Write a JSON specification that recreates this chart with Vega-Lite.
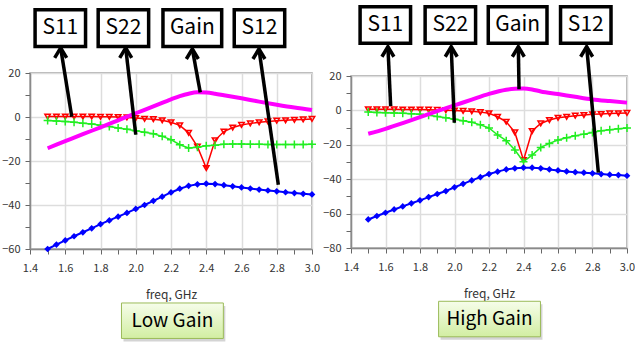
{
  "$schema": "https://vega.github.io/schema/vega-lite/v6.json",
  "background": "white",
  "padding": {"left": 0, "top": -2, "right": 0, "bottom": 0},
  "bounds": "flush",
  "spacing": 39,
  "config": {
    "view": {"stroke": "#9a9a9a", "strokeWidth": 1.5},
    "axis": {
      "labelFont": "Noto Sans CJK KR", "labelFontSize": 11, "labelColor": "#333333",
      "tickColor": "#666666", "tickSize": 5, "tickWidth": 1,
      "domainColor": "#8a8a8a", "domainWidth": 1.5,
      "gridColor": "#dddddd", "gridWidth": 1.5,
      "titleFont": "Noto Sans CJK KR", "titleFontSize": 12, "titleFontWeight": "normal", "titleColor": "#333333"
    },
    "axisX": {"labelPadding": 8, "titlePadding": 16},
    "axisY": {"labelPadding": 5}
  },
  "datasets": {
    "low": [
      {"s":"S11","f":1.5,"v":0.2},{"s":"S11","f":1.55,"v":0.2},{"s":"S11","f":1.6,"v":0.2},{"s":"S11","f":1.65,"v":0.2},{"s":"S11","f":1.7,"v":0.2},{"s":"S11","f":1.75,"v":0.2},{"s":"S11","f":1.8,"v":0.1},{"s":"S11","f":1.85,"v":0.1},{"s":"S11","f":1.9,"v":0.0},{"s":"S11","f":1.95,"v":-0.2},{"s":"S11","f":2.0,"v":-0.5},{"s":"S11","f":2.05,"v":-0.8},{"s":"S11","f":2.1,"v":-1.0},{"s":"S11","f":2.15,"v":-1.5},{"s":"S11","f":2.2,"v":-2.4},{"s":"S11","f":2.25,"v":-3.8},{"s":"S11","f":2.3,"v":-7.2},{"s":"S11","f":2.35,"v":-13.5},{"s":"S11","f":2.4,"v":-23.2},{"s":"S11","f":2.45,"v":-10.6},{"s":"S11","f":2.5,"v":-6.6},{"s":"S11","f":2.55,"v":-4.8},{"s":"S11","f":2.6,"v":-3.6},{"s":"S11","f":2.65,"v":-2.9},{"s":"S11","f":2.7,"v":-2.4},{"s":"S11","f":2.75,"v":-2.0},{"s":"S11","f":2.8,"v":-1.7},{"s":"S11","f":2.85,"v":-1.5},{"s":"S11","f":2.9,"v":-1.3},{"s":"S11","f":2.95,"v":-1.1},{"s":"S11","f":3.0,"v":-0.9},
      {"s":"S22","f":1.5,"v":-1.6},{"s":"S22","f":1.55,"v":-1.8},{"s":"S22","f":1.6,"v":-2.0},{"s":"S22","f":1.65,"v":-2.4},{"s":"S22","f":1.7,"v":-2.8},{"s":"S22","f":1.75,"v":-3.2},{"s":"S22","f":1.8,"v":-3.7},{"s":"S22","f":1.85,"v":-4.3},{"s":"S22","f":1.9,"v":-5.0},{"s":"S22","f":1.95,"v":-5.6},{"s":"S22","f":2.0,"v":-6.3},{"s":"S22","f":2.05,"v":-6.9},{"s":"S22","f":2.1,"v":-7.6},{"s":"S22","f":2.15,"v":-8.8},{"s":"S22","f":2.2,"v":-10.3},{"s":"S22","f":2.25,"v":-12.6},{"s":"S22","f":2.3,"v":-14.1},{"s":"S22","f":2.35,"v":-13.8},{"s":"S22","f":2.4,"v":-13.1},{"s":"S22","f":2.45,"v":-12.8},{"s":"S22","f":2.5,"v":-12.4},{"s":"S22","f":2.55,"v":-12.3},{"s":"S22","f":2.6,"v":-12.3},{"s":"S22","f":2.65,"v":-12.4},{"s":"S22","f":2.7,"v":-12.4},{"s":"S22","f":2.75,"v":-12.5},{"s":"S22","f":2.8,"v":-12.5},{"s":"S22","f":2.85,"v":-12.5},{"s":"S22","f":2.9,"v":-12.5},{"s":"S22","f":2.95,"v":-12.5},{"s":"S22","f":3.0,"v":-12.4},
      {"s":"S12","f":1.5,"v":-60.0},{"s":"S12","f":1.55,"v":-58.0},{"s":"S12","f":1.6,"v":-56.1},{"s":"S12","f":1.65,"v":-54.2},{"s":"S12","f":1.7,"v":-52.4},{"s":"S12","f":1.75,"v":-50.6},{"s":"S12","f":1.8,"v":-48.7},{"s":"S12","f":1.85,"v":-47.0},{"s":"S12","f":1.9,"v":-45.3},{"s":"S12","f":1.95,"v":-43.6},{"s":"S12","f":2.0,"v":-41.8},{"s":"S12","f":2.05,"v":-40.0},{"s":"S12","f":2.1,"v":-38.1},{"s":"S12","f":2.15,"v":-36.2},{"s":"S12","f":2.2,"v":-34.3},{"s":"S12","f":2.25,"v":-32.6},{"s":"S12","f":2.3,"v":-31.3},{"s":"S12","f":2.35,"v":-30.6},{"s":"S12","f":2.4,"v":-30.3},{"s":"S12","f":2.45,"v":-30.5},{"s":"S12","f":2.5,"v":-31.0},{"s":"S12","f":2.55,"v":-31.5},{"s":"S12","f":2.6,"v":-32.0},{"s":"S12","f":2.65,"v":-32.5},{"s":"S12","f":2.7,"v":-33.0},{"s":"S12","f":2.75,"v":-33.4},{"s":"S12","f":2.8,"v":-33.8},{"s":"S12","f":2.85,"v":-34.2},{"s":"S12","f":2.9,"v":-34.6},{"s":"S12","f":2.95,"v":-34.9},{"s":"S12","f":3.0,"v":-35.2},
      {"s":"Gain","f":1.5,"v":-14.2},{"s":"Gain","f":1.6,"v":-11.0},{"s":"Gain","f":1.7,"v":-7.8},{"s":"Gain","f":1.8,"v":-4.7},{"s":"Gain","f":1.9,"v":-1.5},{"s":"Gain","f":2.0,"v":1.7},{"s":"Gain","f":2.1,"v":4.8},{"s":"Gain","f":2.2,"v":8.0},{"s":"Gain","f":2.25,"v":9.5},{"s":"Gain","f":2.3,"v":10.6},{"s":"Gain","f":2.35,"v":11.2},{"s":"Gain","f":2.4,"v":11.1},{"s":"Gain","f":2.45,"v":10.6},{"s":"Gain","f":2.5,"v":9.9},{"s":"Gain","f":2.6,"v":8.5},{"s":"Gain","f":2.7,"v":7.0},{"s":"Gain","f":2.8,"v":5.6},{"s":"Gain","f":2.9,"v":4.3},{"s":"Gain","f":3.0,"v":3.2}
    ],
    "high": [
      {"s":"S11","f":1.5,"v":0.6},{"s":"S11","f":1.55,"v":0.6},{"s":"S11","f":1.6,"v":0.6},{"s":"S11","f":1.65,"v":0.6},{"s":"S11","f":1.7,"v":0.5},{"s":"S11","f":1.75,"v":0.5},{"s":"S11","f":1.8,"v":0.5},{"s":"S11","f":1.85,"v":0.4},{"s":"S11","f":1.9,"v":0.3},{"s":"S11","f":1.95,"v":0.1},{"s":"S11","f":2.0,"v":-0.1},{"s":"S11","f":2.05,"v":-0.3},{"s":"S11","f":2.1,"v":-0.5},{"s":"S11","f":2.15,"v":-1.0},{"s":"S11","f":2.2,"v":-1.7},{"s":"S11","f":2.25,"v":-3.7},{"s":"S11","f":2.3,"v":-6.6},{"s":"S11","f":2.35,"v":-12.8},{"s":"S11","f":2.4,"v":-28.9},{"s":"S11","f":2.45,"v":-12.0},{"s":"S11","f":2.5,"v":-7.6},{"s":"S11","f":2.55,"v":-5.6},{"s":"S11","f":2.6,"v":-4.3},{"s":"S11","f":2.65,"v":-3.7},{"s":"S11","f":2.7,"v":-3.1},{"s":"S11","f":2.75,"v":-2.7},{"s":"S11","f":2.8,"v":-2.3},{"s":"S11","f":2.85,"v":-2.1},{"s":"S11","f":2.9,"v":-1.8},{"s":"S11","f":2.95,"v":-1.7},{"s":"S11","f":3.0,"v":-1.5},
      {"s":"S22","f":1.5,"v":-1.0},{"s":"S22","f":1.55,"v":-1.2},{"s":"S22","f":1.6,"v":-1.4},{"s":"S22","f":1.65,"v":-1.5},{"s":"S22","f":1.7,"v":-1.7},{"s":"S22","f":1.75,"v":-2.0},{"s":"S22","f":1.8,"v":-2.3},{"s":"S22","f":1.85,"v":-2.8},{"s":"S22","f":1.9,"v":-3.5},{"s":"S22","f":1.95,"v":-4.3},{"s":"S22","f":2.0,"v":-5.2},{"s":"S22","f":2.05,"v":-6.0},{"s":"S22","f":2.1,"v":-6.9},{"s":"S22","f":2.15,"v":-8.4},{"s":"S22","f":2.2,"v":-10.2},{"s":"S22","f":2.25,"v":-14.3},{"s":"S22","f":2.3,"v":-17.6},{"s":"S22","f":2.35,"v":-23.0},{"s":"S22","f":2.4,"v":-29.8},{"s":"S22","f":2.45,"v":-26.0},{"s":"S22","f":2.5,"v":-21.5},{"s":"S22","f":2.55,"v":-19.2},{"s":"S22","f":2.6,"v":-17.2},{"s":"S22","f":2.65,"v":-15.9},{"s":"S22","f":2.7,"v":-14.7},{"s":"S22","f":2.75,"v":-13.8},{"s":"S22","f":2.8,"v":-12.8},{"s":"S22","f":2.85,"v":-11.8},{"s":"S22","f":2.9,"v":-11.2},{"s":"S22","f":2.95,"v":-10.7},{"s":"S22","f":3.0,"v":-10.3},
      {"s":"S12","f":1.5,"v":-63.4},{"s":"S12","f":1.55,"v":-61.4},{"s":"S12","f":1.6,"v":-59.5},{"s":"S12","f":1.65,"v":-57.6},{"s":"S12","f":1.7,"v":-55.8},{"s":"S12","f":1.75,"v":-54.0},{"s":"S12","f":1.8,"v":-52.3},{"s":"S12","f":1.85,"v":-50.4},{"s":"S12","f":1.9,"v":-48.6},{"s":"S12","f":1.95,"v":-46.9},{"s":"S12","f":2.0,"v":-44.7},{"s":"S12","f":2.05,"v":-42.7},{"s":"S12","f":2.1,"v":-40.7},{"s":"S12","f":2.15,"v":-38.8},{"s":"S12","f":2.2,"v":-37.0},{"s":"S12","f":2.25,"v":-35.6},{"s":"S12","f":2.3,"v":-34.3},{"s":"S12","f":2.35,"v":-33.7},{"s":"S12","f":2.4,"v":-33.3},{"s":"S12","f":2.45,"v":-33.3},{"s":"S12","f":2.5,"v":-33.7},{"s":"S12","f":2.55,"v":-34.3},{"s":"S12","f":2.6,"v":-34.9},{"s":"S12","f":2.65,"v":-35.5},{"s":"S12","f":2.7,"v":-35.9},{"s":"S12","f":2.75,"v":-36.2},{"s":"S12","f":2.8,"v":-36.6},{"s":"S12","f":2.85,"v":-37.0},{"s":"S12","f":2.9,"v":-37.4},{"s":"S12","f":2.95,"v":-37.6},{"s":"S12","f":3.0,"v":-38.0},
      {"s":"Gain","f":1.5,"v":-13.6},{"s":"Gain","f":1.6,"v":-10.7},{"s":"Gain","f":1.7,"v":-7.4},{"s":"Gain","f":1.8,"v":-3.9},{"s":"Gain","f":1.9,"v":-0.4},{"s":"Gain","f":2.0,"v":2.9},{"s":"Gain","f":2.1,"v":6.3},{"s":"Gain","f":2.2,"v":9.6},{"s":"Gain","f":2.3,"v":12.0},{"s":"Gain","f":2.35,"v":12.6},{"s":"Gain","f":2.4,"v":12.8},{"s":"Gain","f":2.45,"v":12.2},{"s":"Gain","f":2.5,"v":11.0},{"s":"Gain","f":2.6,"v":9.5},{"s":"Gain","f":2.7,"v":7.9},{"s":"Gain","f":2.8,"v":6.4},{"s":"Gain","f":2.9,"v":5.4},{"s":"Gain","f":3.0,"v":4.5}
    ],
    "lowArrows": [
      {"label":"S11","f":1.637,"v":0.1,"f2":1.574,"v2":31.4},
      {"label":"S22","f":2.0,"v":-8.0,"f2":1.943,"v2":31.4},
      {"label":"Gain","f":2.366,"v":11.2,"f2":2.321,"v2":30.9},
      {"label":"S12","f":2.809,"v":-30.8,"f2":2.699,"v2":30.9}
    ],
    "highArrows": [
      {"label":"S11","f":1.630,"v":2.5,"f2":1.614,"v2":37.0},
      {"label":"S22","f":1.999,"v":-7.2,"f2":1.981,"v2":37.0},
      {"label":"Gain","f":2.374,"v":12.3,"f2":2.370,"v2":37.0},
      {"label":"S12","f":2.834,"v":-36.2,"f2":2.766,"v2":37.0}
    ],
    "lowLabels": [
      {"label":"S11","f":1.572,"v":40.4},
      {"label":"S22","f":1.930,"v":40.4},
      {"label":"Gain","f":2.321,"v":40.4},
      {"label":"S12","f":2.702,"v":40.4}
    ],
    "highLabels": [
      {"label":"S11","f":1.599,"v":49.65},
      {"label":"S22","f":1.976,"v":49.65},
      {"label":"Gain","f":2.366,"v":49.65},
      {"label":"S12","f":2.761,"v":49.65}
    ],
    "lowTag": [{"label":"Low Gain","f":2.208,"v":-92.6}],
    "highTag": [{"label":"High Gain","f":2.203,"v":-121.3}]
  },
  "hconcat": [
    {
      "width": 282,
      "height": 176,
      "encoding": {
        "x": {"field": "f", "type": "quantitative",
          "scale": {"domain": [1.4, 3.0], "nice": false, "zero": false},
          "axis": {"title": "freq, GHz", "values": [1.4,1.5,1.6,1.7,1.8,1.9,2.0,2.1,2.2,2.3,2.4,2.5,2.6,2.7,2.8,2.9,3.0], "format": ".1f",
            "labelExpr": "round(datum.value*10)%2===0 ? datum.label : ''",
            "gridOpacity": {"condition": {"test": "round(datum.value*10)%2!==0", "value": 0}, "value": 1},
            "labelFlush": false, "labelOverlap": false}},
        "y": {"field": "v", "type": "quantitative",
          "scale": {"domain": [-60, 20], "nice": false, "zero": false},
          "axis": {"title": null, "values": [-60,-50,-40,-30,-20,-10,0,10,20],
            "labelExpr": "datum.value%20===0 ? datum.label : ''",
            "gridOpacity": {"condition": {"test": "datum.value%20!==0", "value": 0}, "value": 1},
            "labelFlush": false, "labelOverlap": false}}
      },
      "layer": [
        {"data": {"name": "low"}, "transform": [{"filter": "datum.s==='S11'"}],
         "mark": {"type": "line", "color": "#ff0000", "strokeWidth": 1.5,
           "point": {"shape": "triangle-down", "filled": false, "size": 30, "color": "#ff0000", "strokeWidth": 1.5, "opacity": 1}}},
        {"data": {"name": "low"}, "transform": [{"filter": "datum.s==='S22'"}],
         "mark": {"type": "line", "color": "#22ee22", "strokeWidth": 1.5,
           "point": {"shape": "M-1,0L1,0M0,-1L0,1", "filled": false, "size": 64, "color": "#22ee22", "strokeWidth": 1.5, "opacity": 1}}},
        {"data": {"name": "low"}, "transform": [{"filter": "datum.s==='S12'"}],
         "mark": {"type": "line", "color": "#0000ff", "strokeWidth": 2,
           "point": {"shape": "diamond", "filled": true, "size": 45, "color": "#0000ff", "opacity": 1}}},
        {"data": {"name": "low"}, "transform": [{"filter": "datum.s==='Gain'"}],
         "mark": {"type": "line", "color": "#ff00ff", "strokeWidth": 4, "interpolate": "monotone"}},
        {"data": {"name": "lowArrows"},
         "mark": {"type": "rule", "color": "black", "strokeWidth": 3.5},
         "encoding": {"x2": {"field": "f2"}, "y2": {"field": "v2"}}},
        {"data": {"name": "lowArrows"},
         "mark": {"type": "point", "shape": "M-0.6,1L0,0L0.6,1", "size": 400, "filled": false, "stroke": "black", "strokeWidth": 3.5, "opacity": 1},
         "encoding": {
           "x": {"field": "f2", "type": "quantitative", "scale": {"domain": [1.4, 3.0], "nice": false, "zero": false}},
           "y": {"field": "v2", "type": "quantitative", "scale": {"domain": [-60, 20], "nice": false, "zero": false}}}},
        {"data": {"name": "lowLabels"},
         "mark": {"type": "point", "size": 1347, "filled": true, "fill": "white", "stroke": "black", "strokeWidth": 3.5, "opacity": 1},
         "encoding": {"shape": {"field": "label", "type": "nominal", "legend": null,
           "scale": {"domain": ["S11","S22","Gain","S12"], "range": ["M-1.375,-1L1.375,-1L1.375,1L-1.375,1Z","M-1.375,-1L1.375,-1L1.375,1L-1.375,1Z","M-1.6,-1L1.6,-1L1.6,1L-1.6,1Z","M-1.375,-1L1.375,-1L1.375,1L-1.375,1Z"]}}}},
        {"data": {"name": "lowLabels"},
         "mark": {"type": "text", "font": "Noto Sans CJK KR", "fontSize": 21, "color": "black", "baseline": "middle", "align": "center"},
         "encoding": {"text": {"field": "label"}}},
        {"data": {"name": "lowTag"},
         "mark": {"type": "point", "shape": "M-2.87,-1L2.87,-1L2.87,1L-2.87,1Z", "size": 1260, "filled": true, "fill": "#b8b8b8", "opacity": 0.6, "strokeWidth": 0, "xOffset": 2, "yOffset": 3}},
        {"data": {"name": "lowTag"},
         "mark": {"type": "point", "shape": "M-2.87,-1L2.87,-1L2.87,1L-2.87,1Z", "size": 1260, "filled": true, "opacity": 1,
           "fill": {"gradient": "linear", "x1": 0, "y1": 0, "x2": 0, "y2": 1, "stops": [{"offset": 0, "color": "#f6fdea"}, {"offset": 1, "color": "#d2eea2"}]},
           "stroke": "#9bbb59", "strokeWidth": 1}},
        {"data": {"name": "lowTag"},
         "mark": {"type": "text", "font": "Noto Sans CJK KR", "fontSize": 19, "color": "black", "baseline": "middle", "align": "center"},
         "encoding": {"text": {"field": "label"}}}
      ]
    },
    {
      "spacing": 0,
      "bounds": "flush",
      "vconcat": [
        {"width": 276, "height": 3, "data": {"values": []}, "mark": "point", "view": {"stroke": null}},
        {
          "width": 276,
          "height": 172,
          "encoding": {
            "x": {"field": "f", "type": "quantitative",
              "scale": {"domain": [1.4, 3.0], "nice": false, "zero": false},
              "axis": {"title": "freq, GHz", "values": [1.4,1.5,1.6,1.7,1.8,1.9,2.0,2.1,2.2,2.3,2.4,2.5,2.6,2.7,2.8,2.9,3.0], "format": ".1f",
                "labelExpr": "round(datum.value*10)%2===0 ? datum.label : ''",
                "gridOpacity": {"condition": {"test": "round(datum.value*10)%2!==0", "value": 0}, "value": 1},
                "labelFlush": false, "labelOverlap": false}},
            "y": {"field": "v", "type": "quantitative",
              "scale": {"domain": [-80, 20], "nice": false, "zero": false},
              "axis": {"title": null, "values": [-80,-70,-60,-50,-40,-30,-20,-10,0,10,20],
                "labelExpr": "datum.value%20===0 ? datum.label : ''",
                "gridOpacity": {"condition": {"test": "datum.value%20!==0", "value": 0}, "value": 1},
                "labelFlush": false, "labelOverlap": false}}
          },
          "layer": [
            {"data": {"name": "high"}, "transform": [{"filter": "datum.s==='S11'"}],
             "mark": {"type": "line", "color": "#ff0000", "strokeWidth": 1.5,
               "point": {"shape": "triangle-down", "filled": false, "size": 30, "color": "#ff0000", "strokeWidth": 1.5, "opacity": 1}}},
            {"data": {"name": "high"}, "transform": [{"filter": "datum.s==='S22'"}],
             "mark": {"type": "line", "color": "#22ee22", "strokeWidth": 1.5,
               "point": {"shape": "M-1,0L1,0M0,-1L0,1", "filled": false, "size": 64, "color": "#22ee22", "strokeWidth": 1.5, "opacity": 1}}},
            {"data": {"name": "high"}, "transform": [{"filter": "datum.s==='S12'"}],
             "mark": {"type": "line", "color": "#0000ff", "strokeWidth": 2,
               "point": {"shape": "diamond", "filled": true, "size": 45, "color": "#0000ff", "opacity": 1}}},
            {"data": {"name": "high"}, "transform": [{"filter": "datum.s==='Gain'"}],
             "mark": {"type": "line", "color": "#ff00ff", "strokeWidth": 4, "interpolate": "monotone"}},
            {"data": {"name": "highArrows"},
             "mark": {"type": "rule", "color": "black", "strokeWidth": 3.5},
             "encoding": {"x2": {"field": "f2"}, "y2": {"field": "v2"}}},
            {"data": {"name": "highArrows"},
             "mark": {"type": "point", "shape": "M-0.6,1L0,0L0.6,1", "size": 400, "filled": false, "stroke": "black", "strokeWidth": 3.5, "opacity": 1},
             "encoding": {
               "x": {"field": "f2", "type": "quantitative", "scale": {"domain": [1.4, 3.0], "nice": false, "zero": false}},
               "y": {"field": "v2", "type": "quantitative", "scale": {"domain": [-80, 20], "nice": false, "zero": false}}}},
            {"data": {"name": "highLabels"},
             "mark": {"type": "point", "size": 1347, "filled": true, "fill": "white", "stroke": "black", "strokeWidth": 3.5, "opacity": 1},
             "encoding": {"shape": {"field": "label", "type": "nominal", "legend": null,
               "scale": {"domain": ["S11","S22","Gain","S12"], "range": ["M-1.375,-1L1.375,-1L1.375,1L-1.375,1Z","M-1.375,-1L1.375,-1L1.375,1L-1.375,1Z","M-1.6,-1L1.6,-1L1.6,1L-1.6,1Z","M-1.375,-1L1.375,-1L1.375,1L-1.375,1Z"]}}}},
            {"data": {"name": "highLabels"},
             "mark": {"type": "text", "font": "Noto Sans CJK KR", "fontSize": 21, "color": "black", "baseline": "middle", "align": "center"},
             "encoding": {"text": {"field": "label"}}},
            {"data": {"name": "highTag"},
             "mark": {"type": "point", "shape": "M-2.87,-1L2.87,-1L2.87,1L-2.87,1Z", "size": 1260, "filled": true, "fill": "#b8b8b8", "opacity": 0.6, "strokeWidth": 0, "xOffset": 2, "yOffset": 3}},
            {"data": {"name": "highTag"},
             "mark": {"type": "point", "shape": "M-2.87,-1L2.87,-1L2.87,1L-2.87,1Z", "size": 1260, "filled": true, "opacity": 1,
               "fill": {"gradient": "linear", "x1": 0, "y1": 0, "x2": 0, "y2": 1, "stops": [{"offset": 0, "color": "#f6fdea"}, {"offset": 1, "color": "#d2eea2"}]},
               "stroke": "#9bbb59", "strokeWidth": 1}},
            {"data": {"name": "highTag"},
             "mark": {"type": "text", "font": "Noto Sans CJK KR", "fontSize": 19, "color": "black", "baseline": "middle", "align": "center"},
             "encoding": {"text": {"field": "label"}}}
          ]
        }
      ]
    }
  ]
}
